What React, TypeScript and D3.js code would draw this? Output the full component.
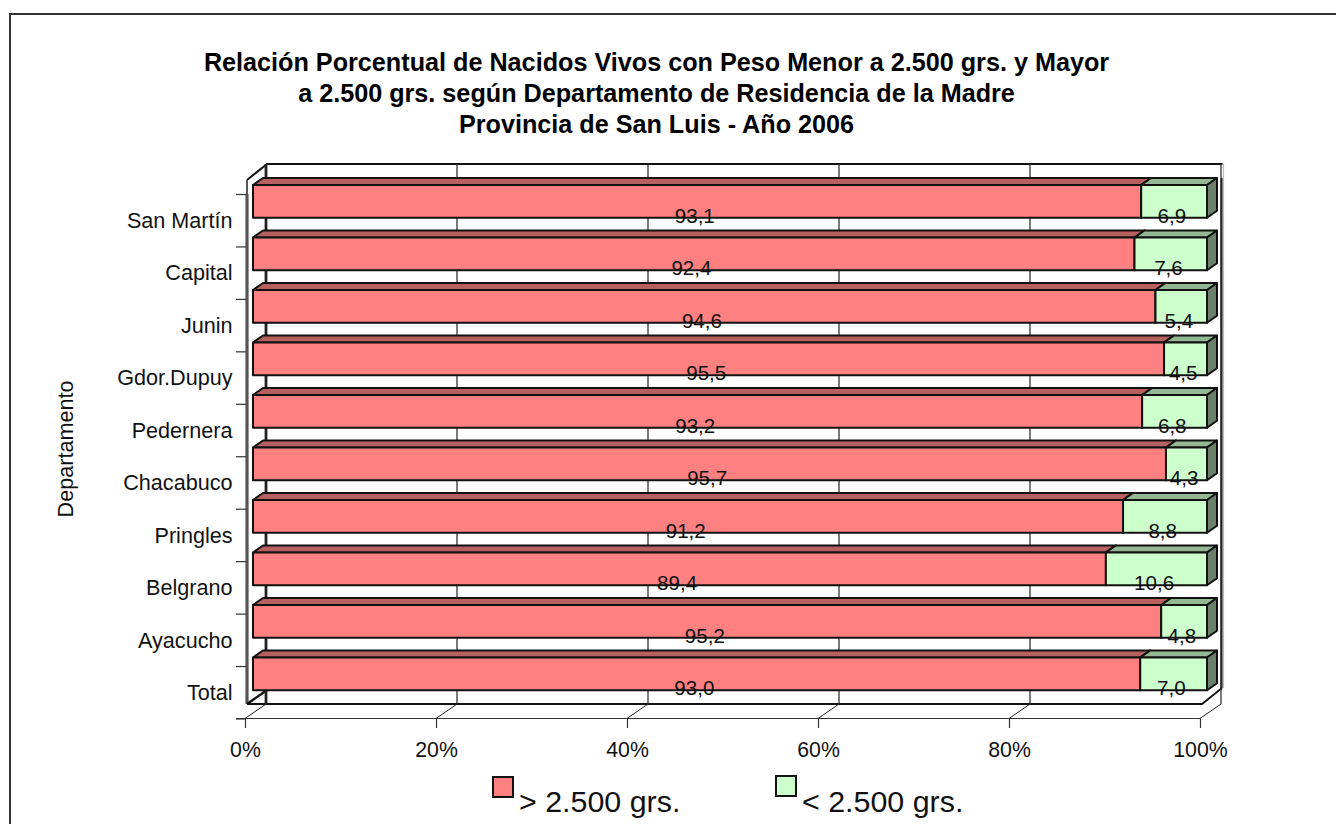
import * as d3 from "d3";
import React, { useEffect, useRef } from "react";

const titleLines = [
  "Relación Porcentual de Nacidos Vivos con Peso Menor a 2.500 grs. y Mayor",
  "a 2.500 grs. según Departamento de Residencia de la Madre",
  "Provincia de San Luis - Año 2006",
];
const categories = ["San Martín", "Capital", "Junin", "Gdor.Dupuy", "Pedernera", "Chacabuco", "Pringles", "Belgrano", "Ayacucho", "Total"];
const mayor = [93.1, 92.4, 94.6, 95.5, 93.2, 95.7, 91.2, 89.4, 95.2, 93.0];
const menor = [6.9, 7.6, 5.4, 4.5, 6.8, 4.3, 8.8, 10.6, 4.8, 7.0];
const seriesNames = ["> 2.500 grs.", "< 2.500 grs."];
const percentTicks = [0, 20, 40, 60, 80, 100];

const FONT = "'Liberation Sans', Arial, sans-serif";
const INK = "#111";

const colors = [
  { front: "#ff8080", top: "#b86060", side: "#b86060" },
  { front: "#ccffcc", top: "#93b893", side: "#6b806b" },
];

const App: React.FC = () => {
  const svgRef = useRef<SVGSVGElement | null>(null);

  useEffect(() => {
    const svg = d3.select(svgRef.current);
    svg.selectAll("*").remove();

    const width = 1336;
    const height = 824;
    const floorY = 718.5; // eje frontal
    const wallTop = 164;
    const wallBottom = 704;
    const depth = { x: 21, y: -14 };
    const barDepth = { x: 10, y: -7 };

    // escalas
    const xAxisScale = d3.scaleLinear().domain([0, 100]).range([245, 1200]);
    const xBar = d3.scaleLinear().domain([0, 100]).range([253, 1207]);
    const yBar = d3.scaleBand<string>().domain(categories).range([185, 690.2]).paddingInner(0.377).paddingOuter(0);
    const yTick = d3.scaleLinear().domain([0, 10]).range([194, floorY]);

    // marco exterior
    svg
      .append("path")
      .attr("d", `M10,${height} V14 H${width}`)
      .attr("fill", "none")
      .attr("stroke", "#333")
      .attr("stroke-width", 2);

    // titulo
    svg
      .append("g")
      .selectAll("text")
      .data(titleLines)
      .join("text")
      .attr("x", 656.5)
      .attr("y", (_, i) => 70.5 + i * 31.2)
      .attr("text-anchor", "middle")
      .attr("font-family", FONT)
      .attr("font-size", 25.2)
      .attr("font-weight", "bold")
      .attr("fill", "#000")
      .text((d) => d);

    // paredes
    const walls = svg.append("g").attr("fill", "none").attr("stroke", "#111");
    walls.append("path").attr("d", `M247,180 L${245 + depth.x + 1},${wallTop} H1222.5`).attr("stroke-width", 2);
    walls.append("path").attr("d", `M1223.5,${wallTop} V688`).attr("stroke", "#bbb").attr("stroke-width", 1.2);
    walls.append("path").attr("d", "M1221.5,178 V688").attr("stroke", "#333").attr("stroke-width", 2.2);
    walls.append("path").attr("d", "M247,180 V196").attr("stroke-width", 1.4);
    walls.append("path").attr("d", `M247,194 V${wallBottom}`).attr("stroke", "#555").attr("stroke-width", 3.2);
    walls.append("path").attr("d", `M247,${wallBottom} L267,690`).attr("stroke-width", 2.4);
    walls.append("path").attr("d", `M247,${wallBottom} H1202 L1222,688`).attr("stroke-width", 1.8);

    // grilla del fondo
    svg
      .append("g")
      .selectAll("line")
      .data(percentTicks)
      .join("line")
      .attr("x1", (d) => xAxisScale(d) + depth.x)
      .attr("x2", (d) => xAxisScale(d) + depth.x)
      .attr("y1", wallTop)
      .attr("y2", wallBottom)
      .attr("stroke", "#222")
      .attr("stroke-width", (d) => (d === 0 ? 2.8 : 1.2));

    // diagonales del piso
    svg
      .append("g")
      .selectAll("line")
      .data(percentTicks)
      .join("line")
      .attr("x1", (d) => xAxisScale(d))
      .attr("x2", (d) => xAxisScale(d) + depth.x)
      .attr("y1", floorY)
      .attr("y2", wallBottom)
      .attr("stroke", "#222")
      .attr("stroke-width", 1);

    // ejes
    const xAxis = svg
      .append("g")
      .attr("transform", `translate(0,${floorY})`)
      .call(d3.axisBottom(xAxisScale).tickValues(percentTicks).tickSize(9.5).tickPadding(14).tickFormat((d) => `${d}%`));
    xAxis.select(".domain").remove();
    xAxis.selectAll("line").attr("stroke", "#333").attr("stroke-width", 1.2);
    xAxis.selectAll("text").attr("font-family", FONT).attr("font-size", 21.3).attr("fill", INK);
    svg
      .append("line")
      .attr("x1", 236)
      .attr("x2", 1200)
      .attr("y1", floorY)
      .attr("y2", floorY)
      .attr("stroke", "#333")
      .attr("stroke-width", 1.2);

    const yAxis = svg
      .append("g")
      .attr("transform", "translate(246,0)")
      .call(d3.axisLeft(yTick).ticks(10).tickSize(10).tickFormat(() => ""));
    yAxis.select(".domain").remove();
    yAxis.selectAll("line").attr("stroke", "#333").attr("stroke-width", 1.2);

    // barras apiladas
    const rows = categories.map((c, i) => ({ cat: c, mayor: mayor[i], menor: menor[i] }));
    const stacked = d3.stack<(typeof rows)[number]>().keys(["mayor", "menor"])(rows);

    stacked.forEach((layer, s) => {
      const g = svg.append("g").attr("stroke", "#111").attr("stroke-width", 2).attr("stroke-linejoin", "round");
      layer.forEach((seg) => {
        const x0 = xBar(seg[0]);
        const x1 = xBar(seg[1]);
        const y0 = yBar(seg.data.cat) as number;
        const y1 = y0 + yBar.bandwidth();
        const dx = barDepth.x;
        const dy = barDepth.y;
        g.append("path")
          .attr("d", `M${x0},${y0} L${x0 + dx},${y0 + dy} H${x1 + dx} L${x1},${y0} Z`)
          .attr("fill", colors[s].top);
        g.append("path")
          .attr("d", `M${x1},${y0} L${x1 + dx},${y0 + dy} V${y1 + dy} L${x1},${y1} Z`)
          .attr("fill", colors[s].side);
        g.append("rect")
          .attr("x", x0)
          .attr("y", y0)
          .attr("width", x1 - x0)
          .attr("height", y1 - y0)
          .attr("fill", colors[s].front);
      });
    });

    // etiquetas de valores
    stacked.forEach((layer) => {
      svg
        .append("g")
        .selectAll("text")
        .data(layer)
        .join("text")
        .attr("x", (d) => xBar((d[0] + d[1]) / 2) - 2.3)
        .attr("y", (d) => (yBar(d.data.cat) as number) + yBar.bandwidth() + 5)
        .attr("text-anchor", "middle")
        .attr("font-family", FONT)
        .attr("font-size", 20.6)
        .attr("fill", INK)
        .text((d) => (d[1] - d[0]).toFixed(1).replace(".", ","));
    });

    // categorias
    svg
      .append("g")
      .selectAll("text")
      .data(categories)
      .join("text")
      .attr("x", 232.5)
      .attr("y", (d) => (yBar(d) as number) + yBar.bandwidth() + 10)
      .attr("text-anchor", "end")
      .attr("font-family", FONT)
      .attr("font-size", 21.6)
      .attr("fill", INK)
      .text((d) => d);

    svg
      .append("text")
      .attr("transform", "translate(72.7,449) rotate(-90)")
      .attr("text-anchor", "middle")
      .attr("font-family", FONT)
      .attr("font-size", 21.6)
      .attr("fill", INK)
      .text("Departamento");

    // leyenda
    const legend = svg
      .append("g")
      .selectAll("g")
      .data(seriesNames)
      .join("g")
      .attr("transform", (_, i) => `translate(${i === 0 ? 493 : 776},${i === 0 ? 777 : 776})`);
    legend
      .append("rect")
      .attr("width", 20)
      .attr("height", 20)
      .attr("fill", (_, i) => colors[i].front)
      .attr("stroke", "#111")
      .attr("stroke-width", 2);
    legend
      .append("text")
      .attr("x", 26)
      .attr("y", (_, i) => (i === 0 ? 35 : 36))
      .attr("font-family", FONT)
      .attr("font-size", 30.4)
      .attr("fill", INK)
      .text((d) => d);
  }, []);

  return <svg ref={svgRef} width={1336} height={824} style={{ position: "absolute", left: 0, top: 0, background: "#fff" }}></svg>;
};

export default App;
